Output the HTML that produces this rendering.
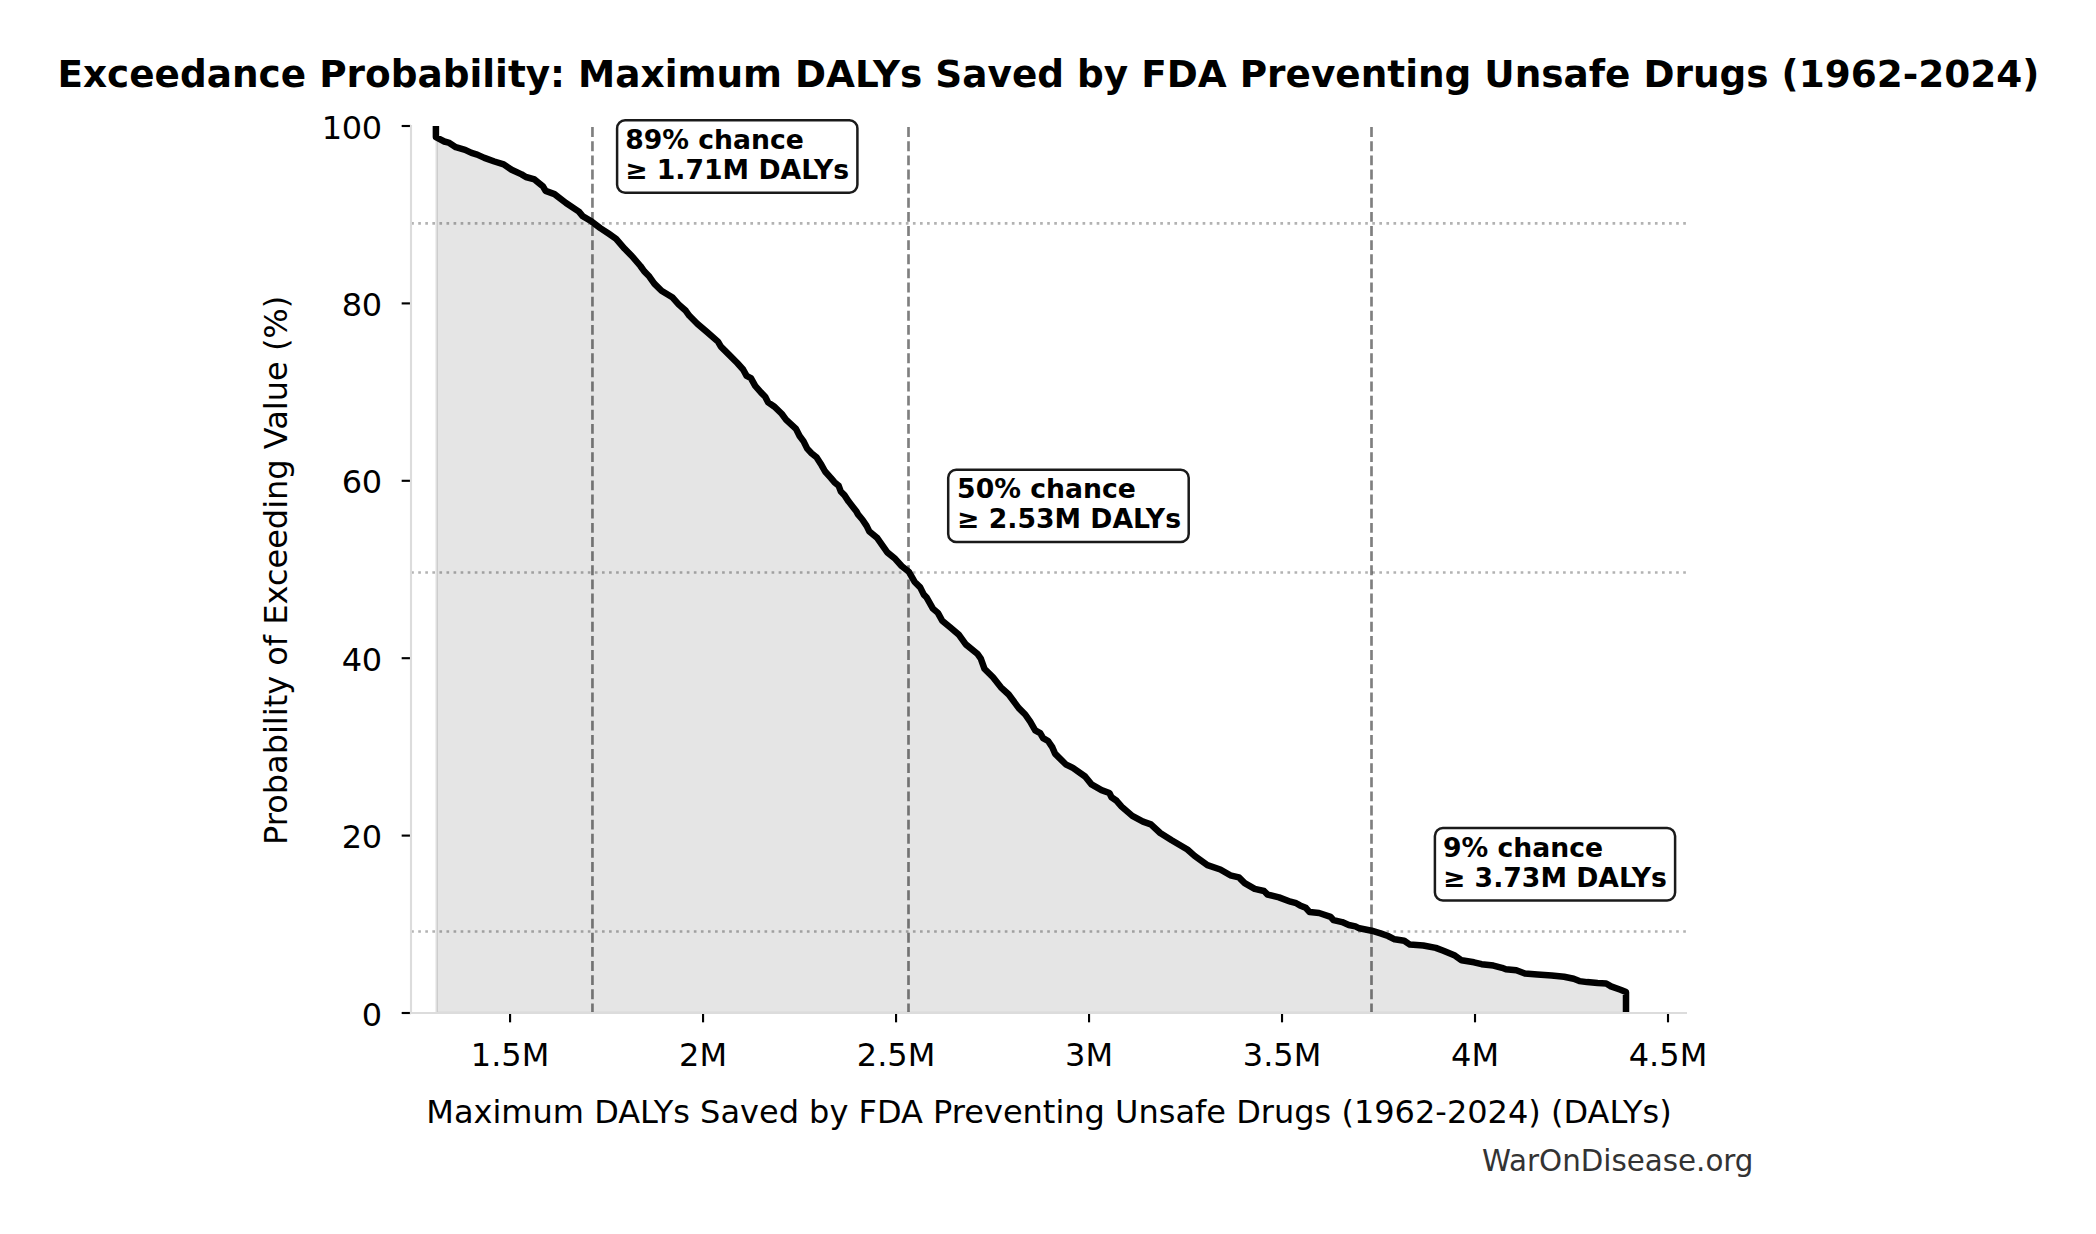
<!DOCTYPE html>
<html lang="en"><head><meta charset="utf-8"><title>Exceedance Probability</title>
<style>html,body{margin:0;padding:0;background:#fff}body{width:2096px;height:1234px;overflow:hidden}svg{display:block}text{font-family:"DejaVu Sans","Liberation Sans",sans-serif;fill:#000}.b{font-weight:bold}</style></head><body>
<svg width="2096" height="1234" viewBox="0 0 2096 1234">
<rect width="2096" height="1234" fill="#fff"/>
<clipPath id="ax"><rect x="411.0" y="126.0" width="1276.0" height="887.0"/></clipPath>
<g clip-path="url(#ax)">
<path d="M436.7,137.6 L444.3,141.5 L448.6,142.6 L455.8,147.2 L465.1,149.8 L471.5,152.9 L477.2,154.6 L484.4,157.9 L494.4,161.5 L503.7,164.4 L511.6,169.8 L521.6,174.4 L525.9,177.0 L534.5,179.4 L543.1,186.6 L545.6,190.9 L554.5,194.1 L566.0,203.0 L578.9,211.6 L582.4,215.9 L591.7,221.6 L600.3,228.1 L608.9,233.8 L616.1,238.8 L624.7,248.8 L631.8,256.0 L640.4,266.0 L644.3,271.4 L648.6,275.7 L654.3,283.6 L661.5,290.8 L672.2,297.2 L678.6,304.4 L685.8,310.8 L689.4,315.8 L697.3,323.7 L707.3,332.3 L718.0,341.6 L720.9,346.6 L728.7,354.4 L737.3,363.0 L743.1,369.5 L746.6,375.9 L750.9,378.1 L755.2,385.9 L760.9,392.4 L765.2,396.7 L768.1,402.4 L774.5,406.7 L781.7,413.8 L786.0,419.6 L796.0,428.9 L799.6,436.0 L803.6,441.4 L807.2,448.6 L811.5,453.2 L816.5,457.2 L821.5,465.1 L825.1,471.5 L830.8,477.9 L834.4,482.2 L838.7,485.8 L840.8,491.5 L844.4,495.1 L848.7,501.6 L853.7,508.0 L856.5,511.6 L858.0,514.4 L862.3,519.5 L866.6,525.9 L869.4,531.6 L877.3,538.1 L887.3,552.4 L895.2,558.8 L901.6,566.0 L908.8,571.7 L914.5,581.7 L920.2,587.4 L923.8,594.6 L926.4,597.2 L932.9,608.6 L937.9,612.9 L942.2,620.8 L950.1,627.2 L958.6,634.4 L965.8,644.4 L977.3,653.7 L980.8,658.7 L984.4,668.7 L993.0,677.3 L1000.9,687.3 L1008.7,694.5 L1018.8,708.1 L1025.2,714.5 L1030.2,721.7 L1035.2,730.3 L1040.2,733.1 L1043.1,738.1 L1048.1,741.0 L1052.4,747.4 L1055.0,753.6 L1065.7,764.3 L1072.9,767.9 L1085.1,776.5 L1091.5,784.4 L1101.5,790.1 L1109.4,793.0 L1111.5,797.3 L1116.6,800.8 L1121.6,806.6 L1132.3,815.9 L1143.0,821.6 L1150.9,824.4 L1160.2,833.0 L1171.7,840.2 L1187.4,849.5 L1194.6,855.9 L1207.4,865.2 L1220.3,869.5 L1230.3,875.3 L1238.9,877.4 L1244.7,883.1 L1254.7,888.9 L1264.0,891.0 L1267.6,894.6 L1279.0,897.4 L1290.5,901.7 L1296.2,903.2 L1300.0,905.4 L1305.7,907.8 L1309.6,912.1 L1319.1,913.0 L1330.6,916.8 L1333.5,920.2 L1342.1,922.1 L1348.8,925.0 L1355.4,926.4 L1359.3,928.3 L1371.7,930.7 L1381.3,933.6 L1388.0,936.0 L1394.6,939.3 L1404.2,940.7 L1409.9,944.6 L1423.3,945.5 L1435.8,947.9 L1443.4,950.8 L1454.9,955.6 L1461.6,960.3 L1474.0,962.3 L1481.6,964.2 L1493.4,965.6 L1502.0,967.8 L1505.8,969.2 L1516.3,970.2 L1524.9,973.5 L1537.4,974.5 L1551.7,975.4 L1564.1,976.8 L1573.7,978.8 L1579.4,981.1 L1587.1,982.1 L1597.6,983.1 L1606.2,983.5 L1611.0,986.4 L1620.5,989.8 L1626.0,992.1 L1626.0,1013.0 L436.7,1013.0 Z" fill="#000" fill-opacity="0.1" stroke="#000" stroke-opacity="0.1" stroke-width="2.667" stroke-linejoin="miter"/>
<line x1="592.45" y1="1013.3" x2="592.45" y2="126.0" stroke="#000" stroke-opacity="0.5" stroke-width="2.667" stroke-dasharray="9.867 4.267"/>
<line x1="908.5" y1="1013.3" x2="908.5" y2="126.0" stroke="#000" stroke-opacity="0.5" stroke-width="2.667" stroke-dasharray="9.867 4.267"/>
<line x1="1371.5" y1="1013.3" x2="1371.5" y2="126.0" stroke="#000" stroke-opacity="0.5" stroke-width="2.667" stroke-dasharray="9.867 4.267"/>
<line x1="411.15" y1="223.45" x2="1687.0" y2="223.45" stroke="#000" stroke-opacity="0.3" stroke-width="2.667" stroke-dasharray="2.667 4.400"/>
<line x1="411.15" y1="572.5" x2="1687.0" y2="572.5" stroke="#000" stroke-opacity="0.3" stroke-width="2.667" stroke-dasharray="2.667 4.400"/>
<line x1="411.15" y1="931.5" x2="1687.0" y2="931.5" stroke="#000" stroke-opacity="0.3" stroke-width="2.667" stroke-dasharray="2.667 4.400"/>
<path d="M435.9,126.0 L435.9,137.2 L444.3,141.5 L448.6,142.6 L455.8,147.2 L465.1,149.8 L471.5,152.9 L477.2,154.6 L484.4,157.9 L494.4,161.5 L503.7,164.4 L511.6,169.8 L521.6,174.4 L525.9,177.0 L534.5,179.4 L543.1,186.6 L545.6,190.9 L554.5,194.1 L566.0,203.0 L578.9,211.6 L582.4,215.9 L591.7,221.6 L600.3,228.1 L608.9,233.8 L616.1,238.8 L624.7,248.8 L631.8,256.0 L640.4,266.0 L644.3,271.4 L648.6,275.7 L654.3,283.6 L661.5,290.8 L672.2,297.2 L678.6,304.4 L685.8,310.8 L689.4,315.8 L697.3,323.7 L707.3,332.3 L718.0,341.6 L720.9,346.6 L728.7,354.4 L737.3,363.0 L743.1,369.5 L746.6,375.9 L750.9,378.1 L755.2,385.9 L760.9,392.4 L765.2,396.7 L768.1,402.4 L774.5,406.7 L781.7,413.8 L786.0,419.6 L796.0,428.9 L799.6,436.0 L803.6,441.4 L807.2,448.6 L811.5,453.2 L816.5,457.2 L821.5,465.1 L825.1,471.5 L830.8,477.9 L834.4,482.2 L838.7,485.8 L840.8,491.5 L844.4,495.1 L848.7,501.6 L853.7,508.0 L856.5,511.6 L858.0,514.4 L862.3,519.5 L866.6,525.9 L869.4,531.6 L877.3,538.1 L887.3,552.4 L895.2,558.8 L901.6,566.0 L908.8,571.7 L914.5,581.7 L920.2,587.4 L923.8,594.6 L926.4,597.2 L932.9,608.6 L937.9,612.9 L942.2,620.8 L950.1,627.2 L958.6,634.4 L965.8,644.4 L977.3,653.7 L980.8,658.7 L984.4,668.7 L993.0,677.3 L1000.9,687.3 L1008.7,694.5 L1018.8,708.1 L1025.2,714.5 L1030.2,721.7 L1035.2,730.3 L1040.2,733.1 L1043.1,738.1 L1048.1,741.0 L1052.4,747.4 L1055.0,753.6 L1065.7,764.3 L1072.9,767.9 L1085.1,776.5 L1091.5,784.4 L1101.5,790.1 L1109.4,793.0 L1111.5,797.3 L1116.6,800.8 L1121.6,806.6 L1132.3,815.9 L1143.0,821.6 L1150.9,824.4 L1160.2,833.0 L1171.7,840.2 L1187.4,849.5 L1194.6,855.9 L1207.4,865.2 L1220.3,869.5 L1230.3,875.3 L1238.9,877.4 L1244.7,883.1 L1254.7,888.9 L1264.0,891.0 L1267.6,894.6 L1279.0,897.4 L1290.5,901.7 L1296.2,903.2 L1300.0,905.4 L1305.7,907.8 L1309.6,912.1 L1319.1,913.0 L1330.6,916.8 L1333.5,920.2 L1342.1,922.1 L1348.8,925.0 L1355.4,926.4 L1359.3,928.3 L1371.7,930.7 L1381.3,933.6 L1388.0,936.0 L1394.6,939.3 L1404.2,940.7 L1409.9,944.6 L1423.3,945.5 L1435.8,947.9 L1443.4,950.8 L1454.9,955.6 L1461.6,960.3 L1474.0,962.3 L1481.6,964.2 L1493.4,965.6 L1502.0,967.8 L1505.8,969.2 L1516.3,970.2 L1524.9,973.5 L1537.4,974.5 L1551.7,975.4 L1564.1,976.8 L1573.7,978.8 L1579.4,981.1 L1587.1,982.1 L1597.6,983.1 L1606.2,983.5 L1611.0,986.4 L1620.5,989.8 L1626.0,992.1 L1626.0,1013.0" fill="none" stroke="#000" stroke-width="6.5" stroke-linejoin="round" stroke-linecap="butt"/>
</g>
<line x1="510.07" y1="1013.0" x2="510.07" y2="1022.33" stroke="#000" stroke-width="2.13"/>
<line x1="703.06" y1="1013.0" x2="703.06" y2="1022.33" stroke="#000" stroke-width="2.13"/>
<line x1="896.05" y1="1013.0" x2="896.05" y2="1022.33" stroke="#000" stroke-width="2.13"/>
<line x1="1089.04" y1="1013.0" x2="1089.04" y2="1022.33" stroke="#000" stroke-width="2.13"/>
<line x1="1282.03" y1="1013.0" x2="1282.03" y2="1022.33" stroke="#000" stroke-width="2.13"/>
<line x1="1475.02" y1="1013.0" x2="1475.02" y2="1022.33" stroke="#000" stroke-width="2.13"/>
<line x1="1668.01" y1="1013.0" x2="1668.01" y2="1022.33" stroke="#000" stroke-width="2.13"/>
<line x1="411.0" y1="126.00" x2="401.67" y2="126.00" stroke="#000" stroke-width="2.13"/>
<line x1="411.0" y1="303.40" x2="401.67" y2="303.40" stroke="#000" stroke-width="2.13"/>
<line x1="411.0" y1="480.80" x2="401.67" y2="480.80" stroke="#000" stroke-width="2.13"/>
<line x1="411.0" y1="658.20" x2="401.67" y2="658.20" stroke="#000" stroke-width="2.13"/>
<line x1="411.0" y1="835.60" x2="401.67" y2="835.60" stroke="#000" stroke-width="2.13"/>
<line x1="411.0" y1="1013.00" x2="401.67" y2="1013.00" stroke="#000" stroke-width="2.13"/>
<path d="M411.0,124.93333333333334 V1014.0666666666667" stroke="#dcdcdc" stroke-width="2.13" fill="none"/>
<path d="M409.93333333333334,1013.0 H1687.0" stroke="#dcdcdc" stroke-width="2.13" fill="none"/>
<text x="510.07" y="1066.3" font-size="32" text-anchor="middle">1.5M</text>
<text x="703.06" y="1066.3" font-size="32" text-anchor="middle">2M</text>
<text x="896.05" y="1066.3" font-size="32" text-anchor="middle">2.5M</text>
<text x="1089.04" y="1066.3" font-size="32" text-anchor="middle">3M</text>
<text x="1282.03" y="1066.3" font-size="32" text-anchor="middle">3.5M</text>
<text x="1475.02" y="1066.3" font-size="32" text-anchor="middle">4M</text>
<text x="1668.01" y="1066.3" font-size="32" text-anchor="middle">4.5M</text>
<text x="381.7" y="138.60" font-size="32" text-anchor="end" letter-spacing="-0.35">100</text>
<text x="381.7" y="316.00" font-size="32" text-anchor="end" letter-spacing="-0.35">80</text>
<text x="381.7" y="493.40" font-size="32" text-anchor="end" letter-spacing="-0.35">60</text>
<text x="381.7" y="670.80" font-size="32" text-anchor="end" letter-spacing="-0.35">40</text>
<text x="381.7" y="848.20" font-size="32" text-anchor="end" letter-spacing="-0.35">20</text>
<text x="381.7" y="1025.60" font-size="32" text-anchor="end" letter-spacing="-0.35">0</text>
<text x="1049" y="1122.8" font-size="32" text-anchor="middle">Maximum DALYs Saved by FDA Preventing Unsafe Drugs (1962-2024) (DALYs)</text>
<text transform="translate(286.8,570.4) rotate(-90)" font-size="32" text-anchor="middle">Probability of Exceeding Value (%)</text>
<text x="1048.45" y="86.8" font-size="37.40" class="b" text-anchor="middle">Exceedance Probability: Maximum DALYs Saved by FDA Preventing Unsafe Drugs (1962-2024)</text>
<text x="1753.5" y="1170.8" font-size="29.33" text-anchor="end" style="fill:#333">WarOnDisease.org</text>
<rect x="617.1" y="120.2" width="240.3" height="72.6" rx="8" ry="8" fill="#fff" stroke="#1a1a1a" stroke-width="2.5"/>
<text x="625.2" y="148.5" font-size="26.67" class="b">89% chance</text>
<text x="625.2" y="179.2" font-size="26.67" class="b">≥ 1.71M DALYs</text>
<rect x="948.2" y="469.8" width="240.5" height="72.2" rx="8" ry="8" fill="#fff" stroke="#1a1a1a" stroke-width="2.5"/>
<text x="957.1" y="497.8" font-size="26.67" class="b">50% chance</text>
<text x="957.1" y="528.1" font-size="26.67" class="b">≥ 2.53M DALYs</text>
<rect x="1434.9" y="828.0" width="240.2" height="72.4" rx="8" ry="8" fill="#fff" stroke="#1a1a1a" stroke-width="2.5"/>
<text x="1443.0" y="856.8" font-size="26.67" class="b">9% chance</text>
<text x="1443.0" y="886.7" font-size="26.67" class="b">≥ 3.73M DALYs</text>
</svg></body></html>
